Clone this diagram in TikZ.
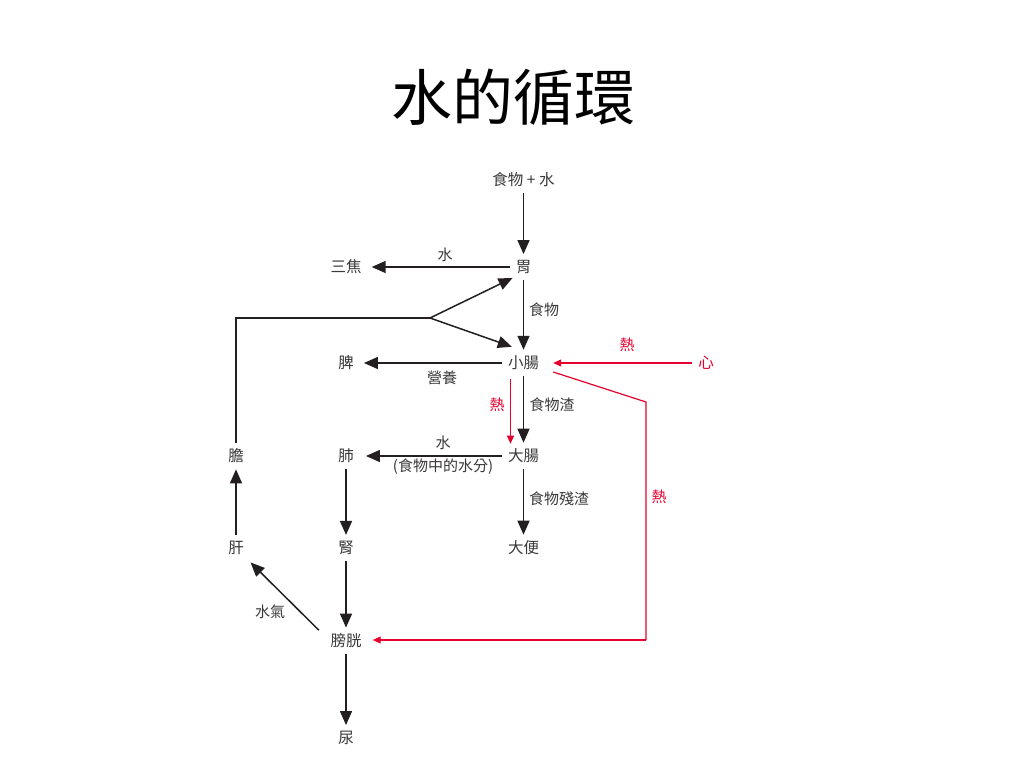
\documentclass[tikz,border=0pt]{standalone}
\usepackage{fontspec}
\setmainfont{Noto Sans CJK TC}
\newfontfamily\titlefont{Noto Sans CJK TC}
\usetikzlibrary{arrows.meta,calc}
\definecolor{ink}{HTML}{231F20}
\definecolor{txt}{HTML}{3A3838}
\definecolor{hot}{HTML}{E6002D}
\tikzset{
  organ/.style={font=\fontsize{15.5}{15.5}\selectfont, text=txt, inner sep=6pt},
  lbl/.style={font=\fontsize{15}{15}\selectfont, text=txt, inner sep=0pt},
  hotlbl/.style={font=\fontsize{15}{15}\selectfont, text=hot, inner sep=0pt},
  flow/.style={draw=ink, line width=1.5pt, -{Triangle[length=14pt,width=12pt]}},
  plain/.style={draw=ink, line width=1.5pt},
  heat/.style={draw=hot, line width=1.2pt, -{Triangle[length=8pt,width=7pt]}},
  heatline/.style={draw=hot, line width=1.2pt},
}
\begin{document}
\begin{tikzpicture}[x=1pt,y=-1pt]
\useasboundingbox[fill=white] (0,0) rectangle (1024,768);
\node[font=\titlefont\fontsize{61}{61}\selectfont, text=black] (title) at (513,97) {水的循環};

% organs
\node[organ] (food) at (523.5,180) {食物 + 水};
\node[organ] (wei) at (523.5,267) {胃};
\node[organ] (sj) at (346,267) {三焦};
\node[organ] (xc) at (523.5,363) {小腸};
\node[organ] (pi) at (346,363) {脾};
\node[organ, text=hot] (xin) at (706,363) {心};
\node[organ] (dc) at (523.5,456) {大腸};
\node[organ] (fei) at (346,456) {肺};
\node[organ] (dan) at (236,456) {膽};
\node[organ] (gan) at (236,548) {肝};
\node[organ] (shen) at (346,548) {腎};
\node[organ] (db) at (523.5,548) {大便};
\node[organ] (pg) at (346,641) {膀胱};
\node[organ] (niao) at (346,738) {尿};

% labels
\node[lbl] (l1) at (445,255) {水};
\node[lbl] (l2) at (544,310) {食物};
\node[lbl] (l3) at (442,378) {營養};
\node[hotlbl] (l4) at (627,345) {熱};
\node[hotlbl] (l5) at (497,405) {熱};
\node[lbl] (l6) at (552,405) {食物渣};
\node[lbl] (l7) at (443,443) {水};
\node[lbl] (l8) at (443,467) {(食物中的水分)};
\node[lbl] (l9) at (559,499) {食物殘渣};
\node[hotlbl] (l10) at (659,497) {熱};
\node[lbl] (l11) at (270,612) {水氣};

% coordinates
\coordinate (fork) at (430,318);
\coordinate (r1) at (646,402);
\coordinate (r2) at (646,640);

% black flows
\draw[flow] (food) -- (wei);
\draw[flow, shorten >=4pt] (wei) -- (sj);
\draw[flow] (wei) -- (xc);
\draw[flow, shorten >=4pt] (xc) -- (pi);
\draw[flow] (xc) -- (dc);
\draw[flow, shorten >=6pt] (dc) -- (fei);
\draw[flow] (dc) -- (db);
\draw[flow] (fei) -- (shen);
\draw[flow] (shen) -- (pg);
\draw[flow] (pg) -- (niao);
\draw[flow] (gan) -- (dan);
\draw[flow, shorten <=2pt, shorten >=2pt] ($(pg.north west)+(-4,4)$) -- (gan);
\draw[plain] (dan) |- (fork);
\draw[flow] (fork) -- ($(wei.south west)+(3,-2)$);
\draw[flow] (fork) -- ($(xc.north west)+(10,-3)$);

% red flows
\draw[heat, shorten >=8pt] (xin) -- (xc);
\draw[heatline] ($(xc.east)+(8,9)$) -- (r1) -- (r2);
\draw[heat, shorten >=5pt] (r2) -- (r2 -| pg.east);
\draw[heat] ($(xc.south)+(-13,3)$) -- ($(dc.north)+(-13,1)$);
\end{tikzpicture}
\end{document}
